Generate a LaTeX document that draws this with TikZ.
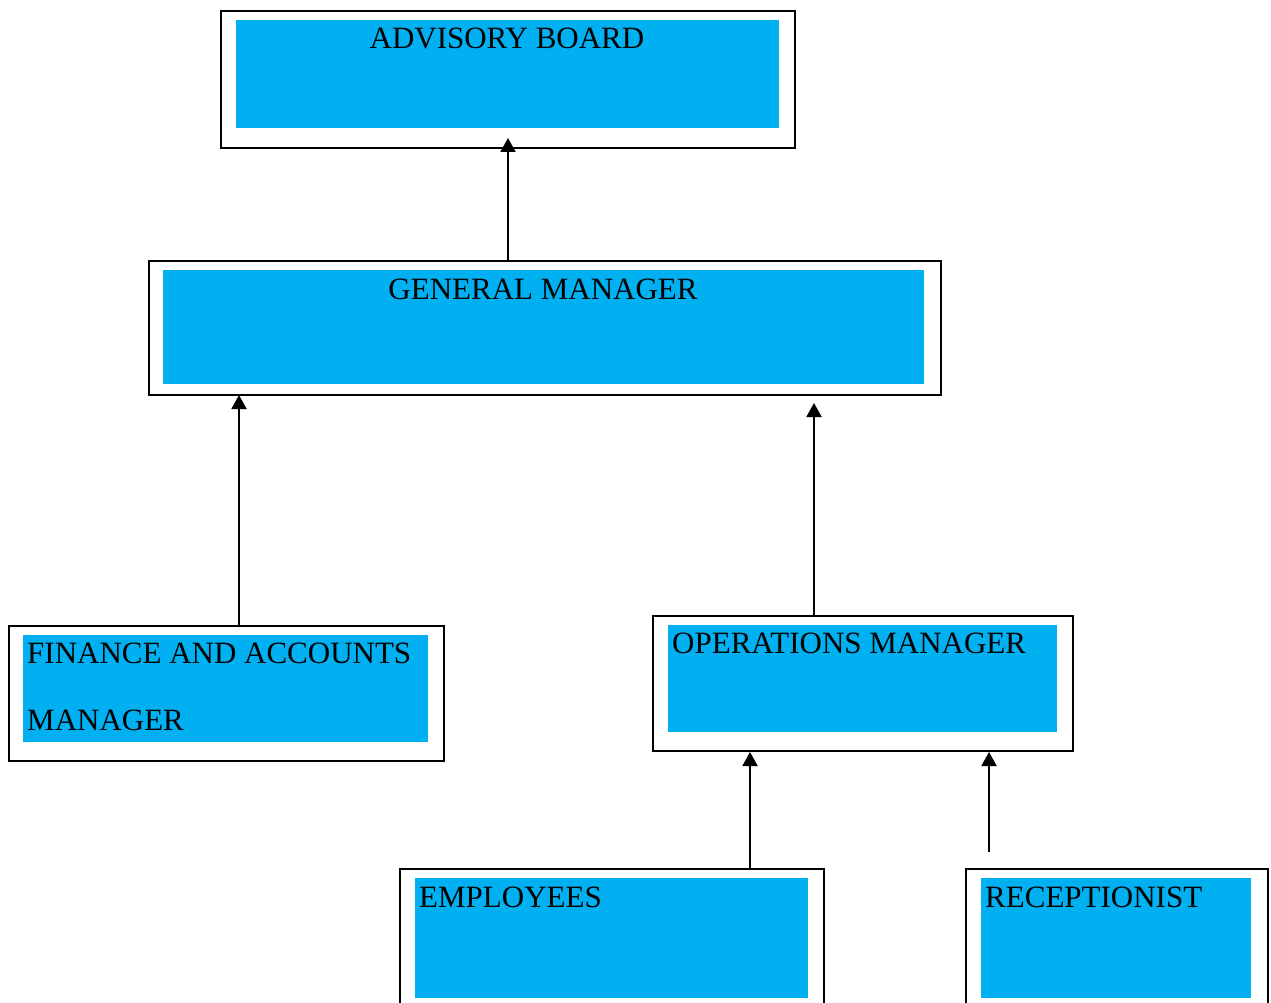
\documentclass[tikz,border=0pt]{standalone}
\usepackage{fontspec}
\setmainfont{Liberation Serif}
\usetikzlibrary{arrows.meta}
\definecolor{boxblue}{HTML}{00B0F0}
\begin{document}
\begin{tikzpicture}[x=1pt,y=-1pt,
  outer/.style={draw=black,line width=1.8pt,inner sep=0pt,anchor=north west,rectangle},
  innerfill/.style={fill=boxblue},
  lbl/.style={font=\fontsize{31}{37}\selectfont,inner sep=0pt},
  conn/.style={line width=1.9pt,-{Triangle[length=14pt,width=15pt]}}]
\useasboundingbox (0,0) rectangle (1271,1003);
\clip (0,0) rectangle (1271,1003);
% inner fills
\fill[innerfill] (236,20) rectangle (779,128);
\fill[innerfill] (163,270) rectangle (924,384);
\fill[innerfill] (23,635) rectangle (428,742);
\fill[innerfill] (668,625) rectangle (1057,732);
\fill[innerfill] (415,878) rectangle (808,998);
\fill[innerfill] (981,878) rectangle (1251,998);
% outer frames
\node[outer,minimum width=574pt,minimum height=137pt] (adv) at (220,10) {};
\node[outer,minimum width=792pt,minimum height=134pt] (gm) at (148,260) {};
\node[outer,minimum width=435pt,minimum height=135pt] (fin) at (8,625) {};
\node[outer,minimum width=420pt,minimum height=135pt] (ops) at (652,615) {};
\node[outer,minimum width=424pt,minimum height=150pt] (emp) at (399,868) {};
\node[outer,minimum width=302pt,minimum height=150pt] (rec) at (965,868) {};
% labels
\node[lbl,anchor=base] (advt) at (507,49) {ADVISORY BOARD};
\node[lbl,anchor=base] (gmt) at (543,299) {GENERAL MANAGER};
\node[lbl,anchor=base west] (fint1) at (27,663) {FINANCE AND ACCOUNTS};
\node[lbl,anchor=base west] (fint2) at (27,730) {MANAGER};
\node[lbl,anchor=base west] (opst) at (672,653) {OPERATIONS MANAGER};
\node[lbl,anchor=base west] (empt) at (419,907) {EMPLOYEES};
\node[lbl,anchor=base west] (rect) at (985,907) {RECEPTIONIST};
% connector end points
\coordinate (c1s) at (508,260); \coordinate (c1e) at (508,138);
\coordinate (c2s) at (239,625); \coordinate (c2e) at (239,395);
\coordinate (c3s) at (814,615); \coordinate (c3e) at (814,403);
\coordinate (c4s) at (750,868); \coordinate (c4e) at (750,752);
\coordinate (c5s) at (989,852); \coordinate (c5e) at (989,752);
\draw[conn] (c1s) -- (c1e);
\draw[conn] (c2s) -- (c2e);
\draw[conn] (c3s) -- (c3e);
\draw[conn] (c4s) -- (c4e);
\draw[conn] (c5s) -- (c5e);
\end{tikzpicture}
\end{document}
